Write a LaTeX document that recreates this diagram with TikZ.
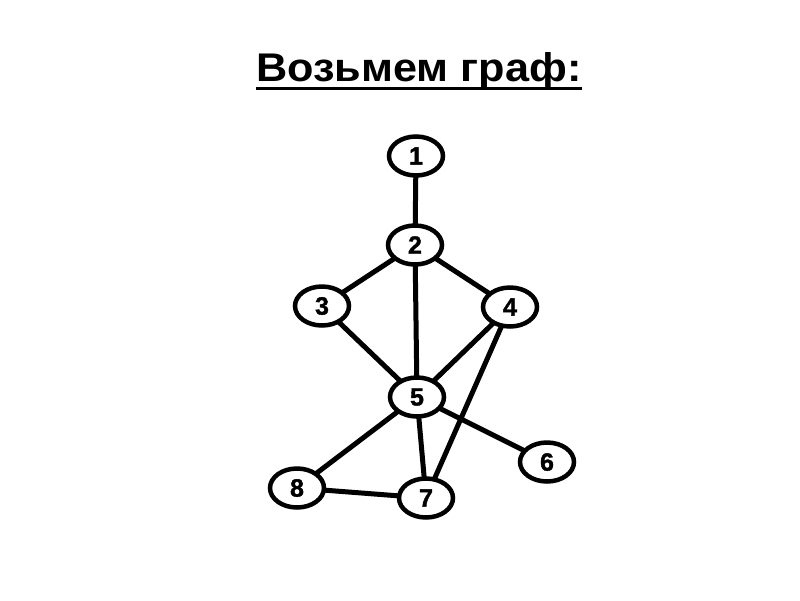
\documentclass[tikz,border=0pt]{standalone}
\usepackage{fontspec}
\setmainfont{Liberation Sans}
\newfontfamily\digfont[FakeBold=1.5]{Liberation Sans Bold}
\usetikzlibrary{shapes.geometric}
\begin{document}
\begin{tikzpicture}[x=1pt,y=-1pt,
  vert/.style={ellipse,draw=black,fill=white,line width=4.5pt,minimum width=54pt,minimum height=39pt,inner sep=0pt,font=\digfont\fontsize{25}{25}\selectfont},
  link/.style={line width=5pt,draw=black}]
\useasboundingbox (0,0) rectangle (800,600);
\node[anchor=base,inner sep=0pt,xscale=1.08,font=\fontsize{40}{40}\selectfont\bfseries] (title) at (419,81) {Возьмем граф:};
\draw[line width=3pt] ([yshift=-7pt]title.base west) -- ([yshift=-7pt]title.base east);
\coordinate (p1) at (416,156);
\coordinate (p2) at (415,245);
\coordinate (p3) at (322,306);
\coordinate (p4) at (510,307);
\coordinate (p5) at (417,397);
\coordinate (p6) at (547,462);
\coordinate (p7) at (426,498);
\coordinate (p8) at (297,488);
\draw[link] (p1) -- (p2) (p2) -- (p3) (p2) -- (p4) (p2) -- (p5) (p3) -- (p5) (p4) -- (p5) (p4) -- (p7) (p5) -- (p6) (p5) -- (p7) (p5) -- (p8) (p8) -- (p7);
\node[vert] (n1) at (p1) {1};
\node[vert] (n2) at (p2) {2};
\node[vert] (n3) at (p3) {3};
\node[vert] (n4) at (p4) {4};
\node[vert] (n5) at (p5) {5};
\node[vert] (n6) at (p6) {6};
\node[vert] (n7) at (p7) {7};
\node[vert] (n8) at (p8) {8};
\end{tikzpicture}
\end{document}
